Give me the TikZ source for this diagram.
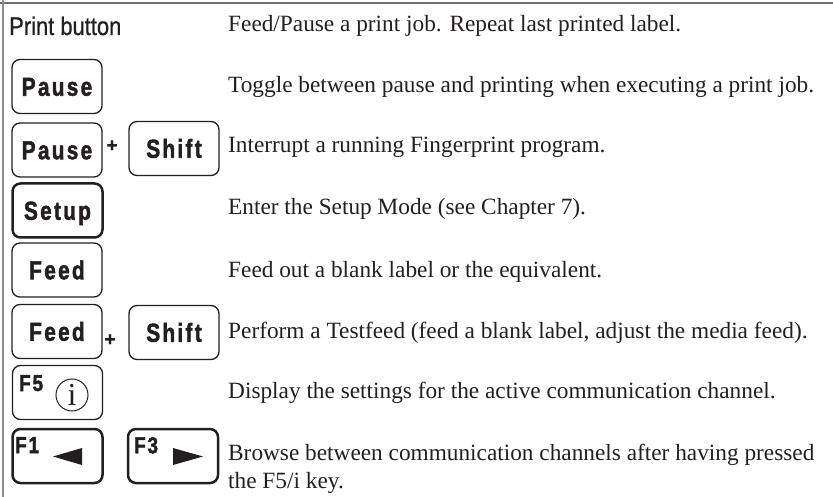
\documentclass[tikz,border=0pt]{standalone}
\usepackage{fontspec}
\setmainfont{Liberation Serif}
\newfontfamily\keyfont{Liberation Sans}[LetterSpace=11, FakeBold=2]
\newfontfamily\fkeyfont{Liberation Sans}[LetterSpace=10, FakeBold=2]
\newfontfamily\labelfont{Liberation Sans}[FakeBold=0.8]
\newfontfamily\plusfont{Liberation Sans}[FakeBold=1.5]
\usetikzlibrary{calc}
\definecolor{ink}{HTML}{231F20}
\definecolor{framec}{HTML}{6E6E6E}
\newcommand\keytxt[1]{\scalebox{0.8}[1]{\keyfont\bfseries\fontsize{26}{26}\selectfont #1}}
\newcommand\fkeytxt[1]{\scalebox{0.82}[1]{\fkeyfont\bfseries\fontsize{23}{23}\selectfont #1}}
\tikzset{
  keybox/.style={draw=ink, line width=1.3pt, rounded corners=8pt, minimum width=90pt,
    minimum height=54pt, inner sep=0pt, text height=18.5pt, text depth=0pt, text=ink},
  thickkey/.style={keybox, line width=2.5pt},
  desc/.style={anchor=base west, inner sep=0pt, text=ink, font=\fontsize{23.3}{28}\selectfont},
  plussign/.style={inner sep=0pt, text=ink, font=\plusfont\bfseries\fontsize{19}{19}\selectfont},
  flabel/.style={anchor=north west, inner sep=0pt, text=ink},
  tri/.style={fill=ink}
}
\begin{document}
\begin{tikzpicture}[x=1pt, y=-1pt]
\useasboundingbox (0,0) rectangle (833,497);
% frame
\draw[framec, line width=1.5pt] (0,3) -- (833,3);
\draw[framec!80, line width=1.5pt] (3,0) -- (3,497);
% header
\node[anchor=base west, inner sep=0pt, text=ink] (hdr) at (9,35)
  {\scalebox{0.86}[1]{\labelfont\fontsize{25.5}{25.5}\selectfont Print button}};
% keys
\node[keybox] (p1) at (57,86.5) {\keytxt{Pause}};
\node[keybox] (p2) at (57,150) {\keytxt{Pause}};
\node[plussign] (pl1) at (112,146) {+};
\node[keybox] (s1) at (174,148.5) {\keytxt{Shift}};
\node[thickkey] (su) at (57.5,210.5) {\keytxt{Setup}};
\node[keybox] (fd1) at (57,270) {\keytxt{Feed}};
\node[keybox] (fd2) at (57,331.5) {\keytxt{Feed}};
\node[plussign] (pl2) at (110,340) {+};
\node[keybox] (s2) at (174,332.5) {\keytxt{Shift}};
% F5 key
\node[keybox] (f5) at (57.5,392.5) {};
\node[flabel] (f5t) at (19,375) {\fkeytxt{F5}};
\node[circle, draw=ink, line width=1pt, minimum width=32pt, inner sep=0pt] (ci) at (72,395) {};
\node[anchor=base, inner sep=0pt, text=ink, font=\fontsize{32}{32}\selectfont] (it) at (72,405.5) {i};
% F1 / F3 keys
\node[thickkey] (f1) at (57.5,456) {};
\node[flabel] (f1t) at (15,437) {\fkeytxt{F1}};
\fill[tri] (82,448) -- (82,465) -- (53,456.5) -- cycle;
\node[thickkey] (f3) at (173,456) {};
\node[flabel] (f3t) at (134,437) {\fkeytxt{F3}};
\fill[tri] (173,448) -- (173,465) -- (203,456.5) -- cycle;
% descriptions
\node[desc] (d1) at (228,32) {Feed/Pause a print job. Repeat last printed label.};
\node[desc] (d2) at (228,93) {Toggle between pause and printing when executing a print job.};
\node[desc] (d3) at (228,153) {Interrupt a running Fingerprint program.};
\node[desc] (d4) at (228,215) {Enter the Setup Mode (see Chapter 7).};
\node[desc] (d5) at (228,277) {Feed out a blank label or the equivalent.};
\node[desc] (d6) at (228,338) {Perform a Testfeed (feed a blank label, adjust the media feed).};
\node[desc] (d7) at (228,398) {Display the settings for the active communication channel.};
\node[desc] (d8) at (228,460) {Browse between communication channels after having pressed};
\node[desc] (d9) at (228,488) {the F5/i key.};
\end{tikzpicture}
\end{document}
